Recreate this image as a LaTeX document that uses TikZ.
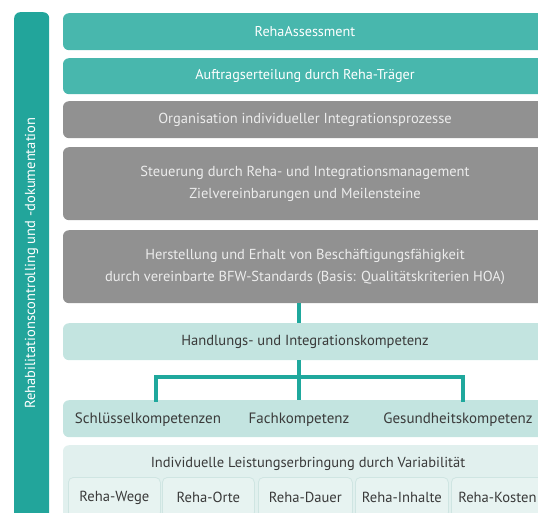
\documentclass[tikz,border=0pt]{standalone}
\usepackage{fontspec}
\setmainfont{PT Sans}
\usetikzlibrary{calc}
\definecolor{tealA}{HTML}{48B7AD}
\definecolor{tealBar}{HTML}{22A59B}
\definecolor{tealLine}{HTML}{1FA89D}
\definecolor{grayBox}{HTML}{919191}
\definecolor{grayText}{HTML}{ECECEC}
\definecolor{lightTeal}{HTML}{C3E4E0}
\definecolor{paleTeal}{HTML}{E1F0EE}
\definecolor{subTeal}{HTML}{E7F3F1}
\definecolor{subBorder}{HTML}{CFE5E2}
\definecolor{darkText}{HTML}{3A3A3A}
\tikzset{
  x=1pt, y=-1pt,
  base/.style={rounded corners=6pt, inner sep=0pt, align=center, minimum width=484pt, anchor=north},
  tealbox/.style={base, fill=tealA, text=white, font=\fontsize{14.2}{16}\selectfont},
  graybox/.style={base, fill=grayBox, text=grayText, font=\fontsize{14.5}{22}\selectfont},
  lightbox/.style={base, fill=lightTeal, text=darkText, font=\fontsize{14.6}{17}\selectfont},
  subbox/.style={rounded corners=5pt, fill=subTeal, draw=subBorder, line width=0.8pt, inner sep=0pt, anchor=north west, text=darkText, font=\fontsize{14.6}{17}\selectfont, minimum height=40pt},
  conn/.style={draw=tealLine, line width=3.2pt},
  lbl/.style={text=darkText, font=\fontsize{15}{17}\selectfont, inner sep=0pt}
}
\begin{document}
\begin{tikzpicture}
\useasboundingbox (0,0) rectangle (538,513);
\clip (0,0) rectangle (538,513);
% left bar
\node[rounded corners=6pt, fill=tealBar, minimum width=35pt, minimum height=510pt, inner sep=0pt, anchor=north west] (bar) at (14,12) {};
\node[rotate=90, text=white, font=\fontsize{14.5}{16}\selectfont] (bartext) at (31.5,263) {Rehabilitationscontrolling und -dokumentation};
% top boxes
\node[tealbox, minimum height=37pt] (b1) at (305,13) {RehaAssessment};
\node[tealbox, minimum height=36pt] (b2) at (305,58) {Auftragserteilung durch Reha-Träger};
\node[graybox, minimum height=37pt] (b3) at (305,101) {Organisation individueller Integrationsprozesse};
\node[graybox, minimum height=73pt] (b4) at (305,147) {Steuerung durch Reha- und Integrationsmanagement\\Zielvereinbarungen und Meilensteine};
\node[graybox, minimum height=73pt] (b5) at (305,230) {Herstellung und Erhalt von Beschäftigungsfähigkeit\\durch vereinbarte BFW-Standards (Basis: Qualitätskriterien HOA)};
% competence
\node[lightbox, minimum height=37pt] (hk) at (305,323) {Handlungs- und Integrationskompetenz};
\node[base, fill=lightTeal, minimum height=37pt] (komp) at (305,400) {};
\node[lbl] (sk) at (148,420) {Schlüsselkompetenzen};
\node[lbl] (fk) at (299,420) {Fachkompetenz};
\node[lbl] (gk) at (458,420) {Gesundheitskompetenz};
% connectors
\coordinate (c1) at (299,303);
\coordinate (c2) at (299,323);
\coordinate (c3) at (299,360);
\coordinate (hl) at (156,377);
\coordinate (hm) at (299,377);
\coordinate (hr) at (463,377);
\coordinate (dl) at (156,400);
\coordinate (dm) at (299,400);
\coordinate (dr) at (463,400);
\draw[conn] (c1) -- (c2);
\draw[conn] (c3) -- (hm);
\draw[conn, line cap=rect] (dl) -- (hl) -- (hr) -- (dr);
\draw[conn] (hm) -- (dm);
% bottom
\node[base, fill=paleTeal, minimum height=80pt] (var) at (305,445) {};
\node[lbl, font=\fontsize{14.5}{16}\selectfont] (vt) at (308,464) {Individuelle Leistungserbringung durch Variabilität};
\node[subbox, minimum width=92pt] (w) at (68,477) {Reha-Wege};
\node[subbox, minimum width=92pt] (o) at (162,477) {Reha-Orte};
\node[subbox, minimum width=94pt] (d) at (258,477) {Reha-Dauer};
\node[subbox, minimum width=93pt] (i) at (355,477) {Reha-Inhalte};
\node[subbox, minimum width=92pt] (k) at (451,477) {Reha-Kosten};
\end{tikzpicture}
\end{document}
